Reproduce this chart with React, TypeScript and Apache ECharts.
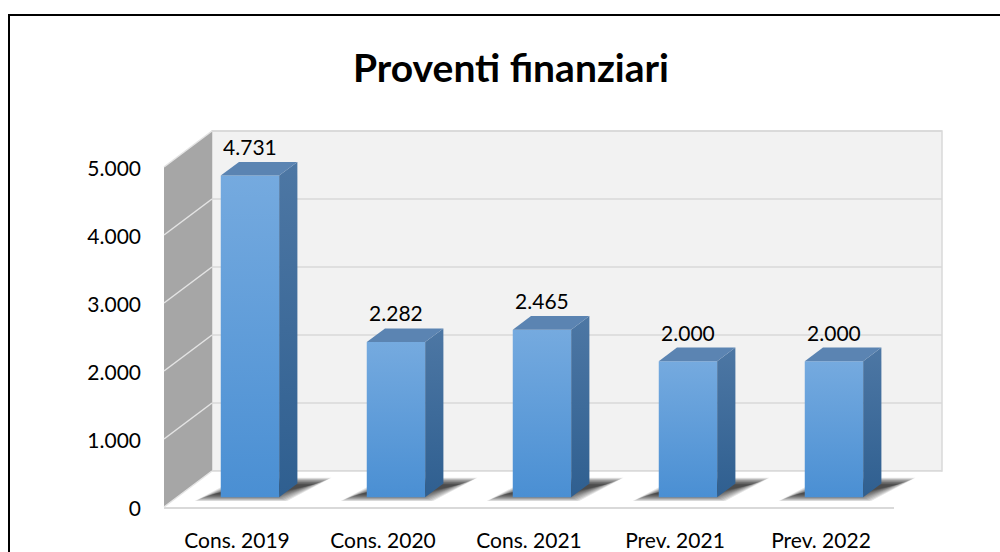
import React, { useEffect, useRef } from 'react';
import * as echarts from 'echarts';

const categories = ['Cons. 2019', 'Cons. 2020', 'Cons. 2021', 'Prev. 2021', 'Prev. 2022'];
const values = [4731, 2282, 2465, 2000, 2000];
const yMin = 0;
const yMax = 5000;
const yInterval = 1000;
const gridTicks = [0, 1000, 2000, 3000, 4000, 5000];
const chartTitle = 'Proventi finanziari';

const fmt = (v: number) => String(Math.round(v)).replace(/\B(?=(\d{3})+(?!\d))/g, '.');

const DEPTH_X = 48;
const DEPTH_Y = -36;
const BAR_F0 = 0.27;
const BAR_F1 = 0.65;
const FONT = 'Lato, "Open Sans", sans-serif';

export default function App() {
  const ref = useRef<HTMLDivElement>(null);
  useEffect(() => {
    document.body.style.margin = '0';
    const chart = echarts.init(ref.current!, null, { renderer: 'svg' });

    const wallsRender = (params: any, api: any) => {
      const cs = params.coordSys;
      const x0 = cs.x;
      const x1 = cs.x + cs.width;
      const yTop = api.coord([0, yMax])[1];
      const yBot = api.coord([0, yMin])[1];
      const bx0 = x0 + DEPTH_X;
      const bx1 = x1 + DEPTH_X;
      const children: any[] = [];
      children.push({
        type: 'rect',
        shape: { x: bx0, y: yTop + DEPTH_Y, width: cs.width, height: yBot - yTop },
        style: { fill: '#f2f2f2', stroke: '#d9d9d9', lineWidth: 1.5 },
      });
      children.push({
        type: 'polygon',
        shape: { points: [[x0, yTop], [bx0, yTop + DEPTH_Y], [bx0, yBot + DEPTH_Y], [x0, yBot]] },
        style: { fill: '#a6a6a6' },
      });
      children.push({
        type: 'polygon',
        shape: { points: [[x0, yBot], [x1, yBot], [bx1, yBot + DEPTH_Y], [bx0, yBot + DEPTH_Y]] },
        style: { fill: '#ffffff' },
      });
      children.push({
        type: 'line',
        shape: { x1: x0, y1: yBot + 1, x2: x1, y2: yBot + 1 },
        style: { stroke: '#d9d9d9', lineWidth: 2 },
      });
      gridTicks.forEach((t) => {
        const y = api.coord([0, t])[1];
        children.push({
          type: 'line',
          shape: { x1: bx0, y1: y + DEPTH_Y, x2: bx1, y2: y + DEPTH_Y },
          style: { stroke: '#d9d9d9', lineWidth: 1.5 },
        });
        children.push({
          type: 'line',
          shape: { x1: x0, y1: y, x2: bx0, y2: y + DEPTH_Y },
          style: { stroke: '#e4e4e4', lineWidth: 1.5 },
        });
      });
      return { type: 'group', children };
    };

    const barRender = (params: any, api: any) => {
      const i = api.value(0);
      const v = api.value(1);
      const base = api.coord([i, 0]);
      const top = api.coord([i, v]);
      const band = api.size([1, 0])[0];
      const w = band * 0.4;
      const fx = base[0] - w / 2 + DEPTH_X * BAR_F0;
      const fyB = base[1] + DEPTH_Y * BAR_F0;
      const fyT = top[1] + DEPTH_Y * BAR_F0;
      const ddx = DEPTH_X * (BAR_F1 - BAR_F0);
      const ddy = DEPTH_Y * (BAR_F1 - BAR_F0);

      const shadowLayers: any[] = [];
      const by = fyB + 3;
      const ty = fyB + ddy - 5;
      const bl = fx - 24;
      const br = fx + w + 6;
      const tl = fx + ddx + 2;
      const tr = fx + w + ddx + 32;
      const N = 11;
      for (let k = 0; k < N; k++) {
        const e = -2 + k * 1.7;
        const ev = e * 0.4;
        shadowLayers.push({
          type: 'polygon',
          shape: {
            points: [
              [bl + e, by - ev],
              [br - e, by - ev],
              [tr - e, ty + ev],
              [tl + e, ty + ev],
            ],
          },
          style: { fill: 'rgba(0,0,0,0.1)' },
        });
      }

      return {
        type: 'group',
        children: [
          ...shadowLayers,
          {
            type: 'rect',
            shape: { x: fx, y: fyT, width: w, height: fyB - fyT },
            style: {
              fill: new echarts.graphic.LinearGradient(0, 0, 0, 1, [
                { offset: 0, color: '#75aadf' },
                { offset: 1, color: '#4a8fd3' },
              ]),
            },
          },
          {
            type: 'polygon',
            shape: { points: [[fx + w, fyT], [fx + w + ddx, fyT + ddy], [fx + w + ddx, fyB + ddy], [fx + w, fyB]] },
            style: {
              fill: new echarts.graphic.LinearGradient(0, 0, 0, 1, [
                { offset: 0, color: '#4d77a4' },
                { offset: 1, color: '#2f5f90' },
              ]),
            },
          },
          {
            type: 'polygon',
            shape: { points: [[fx, fyT], [fx + ddx, fyT + ddy], [fx + w + ddx, fyT + ddy], [fx + w, fyT]] },
            style: { fill: '#5b84b2' },
          },
          {
            type: 'text',
            style: {
              text: fmt(v),
              x: fx + w / 2,
              y: fyT + ddy - 5,
              align: 'center',
              verticalAlign: 'bottom',
              font: `21px ${FONT}`,
              fill: '#000000',
            },
          },
        ],
      };
    };

    chart.setOption({
      animation: false,
      graphic: [
        {
          type: 'rect',
          shape: { x: 9, y: 15, width: 1100, height: 700 },
          style: { fill: 'none', stroke: '#000000', lineWidth: 2 },
          z: -10,
        },
        {
          type: 'text',
          x: 511,
          y: 67,
          style: {
            text: chartTitle,
            align: 'center',
            verticalAlign: 'middle',
            font: `bold 39px ${FONT}`,
            fill: '#000000',
          },
        },
      ],
      grid: { left: 164, right: 106, top: 167, bottom: 45, containLabel: false },
      xAxis: {
        type: 'category',
        data: categories,
        axisLine: { show: false },
        axisTick: { show: false },
        axisLabel: { fontFamily: FONT, fontSize: 21, color: '#000000', margin: 22 },
        splitLine: { show: false },
      },
      yAxis: {
        type: 'value',
        min: yMin,
        max: yMax,
        interval: yInterval,
        axisLine: { show: false },
        axisTick: { show: false },
        splitLine: { show: false },
        axisLabel: { fontFamily: FONT, fontSize: 21, color: '#000000', margin: 23, formatter: (v: number) => fmt(v) },
      },
      series: [
        {
          type: 'custom',
          renderItem: wallsRender,
          data: [[0, 0]],
          z: 1,
          silent: true,
        },
        {
          type: 'custom',
          renderItem: barRender,
          data: values.map((v, i) => [i, v]),
          encode: { x: 0, y: 1 },
          z: 2,
        },
      ],
    });
    return () => chart.dispose();
  }, []);
  return (
    <div
      ref={ref}
      style={{ width: 1000, height: 552, fontVariantLigatures: 'none', fontFeatureSettings: '"liga" 0, "clig" 0' }}
    />
  );
}
